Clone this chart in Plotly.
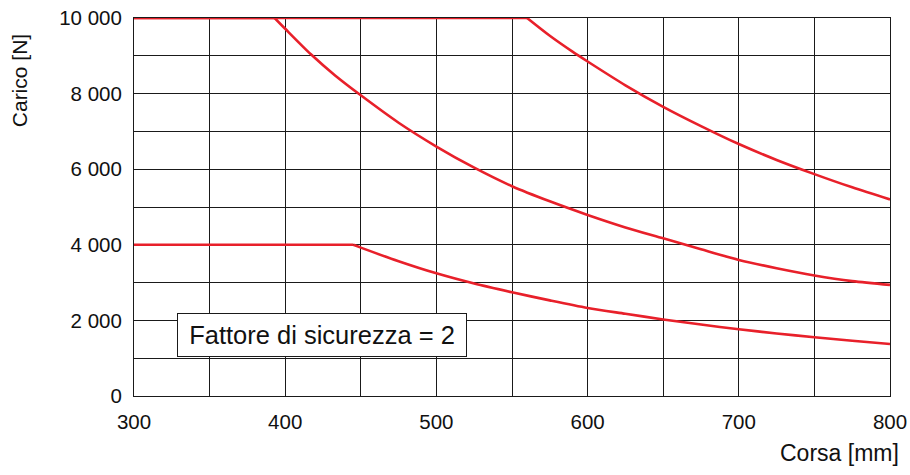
import plotly.graph_objects as go

# ---- data ----
corsa_a = [300, 560, 575, 590, 600, 625, 650, 675, 700, 725, 750, 775, 800]
carico_a = [10000, 10000, 9530, 9110, 8850, 8220, 7650, 7140, 6665, 6245, 5870, 5520, 5200]

corsa_b = [300, 393, 400, 417, 433, 450, 475, 500, 525, 550, 575, 600, 625, 650, 675, 700, 725, 750, 775, 800]
carico_b = [10000, 10000, 9715, 9040, 8480, 7955, 7230, 6600, 6040, 5550, 5150, 4790, 4460, 4170, 3880, 3600, 3380, 3190, 3040, 2940]

corsa_c = [300, 445, 450, 475, 500, 525, 550, 575, 600, 625, 650, 675, 700, 725, 750, 775, 800]
carico_c = [4000, 4000, 3925, 3565, 3245, 2975, 2745, 2530, 2330, 2175, 2025, 1890, 1765, 1655, 1555, 1460, 1375]

x_ticks = [300, 400, 500, 600, 700, 800]
x_ticktext = ["300", "400", "500", "600", "700", "800"]
y_ticks = [0, 2000, 4000, 6000, 8000, 10000]
y_ticktext = ["0", "2 000", "4 000", "6 000", "8 000", "10 000"]

x_title = "Corsa [mm]"
y_title = "Carico [N]"
note_text = "Fattore di sicurezza = 2"

RED = "#e8202a"
GRID = "#1a1a1a"
FONT = "Liberation Sans, Arial, Helvetica, sans-serif"

fig = go.Figure()
for xs, ys in [(corsa_a, carico_a), (corsa_b, carico_b), (corsa_c, carico_c)]:
    # flat (capped) part drawn straight, declining part drawn as a smooth curve
    k = max(i for i, v in enumerate(ys) if v == ys[0])
    fig.add_trace(go.Scatter(x=xs[:k + 1], y=ys[:k + 1], mode="lines",
                             line=dict(color=RED, width=2.6),
                             cliponaxis=False, showlegend=False, hoverinfo="x+y"))
    fig.add_trace(go.Scatter(x=xs[k:], y=ys[k:], mode="lines",
                             line=dict(color=RED, width=2.6, shape="spline", smoothing=0.8),
                             cliponaxis=False, showlegend=False, hoverinfo="x+y"))

axis_common = dict(showgrid=True, gridcolor=GRID, gridwidth=1,
                   showline=True, linecolor=GRID, linewidth=1, mirror=True,
                   zeroline=False, ticks="", layer="below traces", automargin=False,
                   tickfont=dict(size=20.5, color="#111", family=FONT),
                   tickmode="array")

fig.update_xaxes(range=[300, 800], tickvals=x_ticks, ticktext=x_ticktext,
                 minor=dict(tickmode="linear", tick0=300, dtick=50, showgrid=True,
                            gridcolor=GRID, gridwidth=1),
                 ticklabelstandoff=7, **axis_common)
fig.update_yaxes(range=[0, 10000], tickvals=y_ticks, ticktext=y_ticktext,
                 minor=dict(tickmode="linear", tick0=0, dtick=1000, showgrid=True,
                            gridcolor=GRID, gridwidth=1),
                 ticklabelstandoff=7, **axis_common)

fig.add_annotation(text=y_title, xref="paper", yref="paper", x=-0.152, y=0.833,
                   xanchor="center", yanchor="middle", textangle=-90, showarrow=False,
                   font=dict(size=21, color="#111", family=FONT))
fig.add_annotation(text=x_title, xref="paper", yref="paper", x=0.933, y=-0.151,
                   xanchor="center", yanchor="middle", showarrow=False,
                   font=dict(size=23, color="#111", family=FONT))
fig.add_annotation(text=note_text, xref="x", yref="y", x=424.4, y=1606,
                   xanchor="center", yanchor="middle", showarrow=False,
                   width=288, height=42, borderpad=0, borderwidth=1,
                   bordercolor=GRID, bgcolor="white",
                   font=dict(size=25.5, color="#111", family=FONT))

fig.update_layout(width=910, height=475,
                  margin=dict(l=134, r=20, t=18, b=79, autoexpand=False),
                  paper_bgcolor="white", plot_bgcolor="white",
                  font=dict(family=FONT, color="#111"))

fig.write_html("out.html", config={"displayModeBar": False},
               post_script="document.body.style.margin='0';document.body.style.overflow='hidden';")
